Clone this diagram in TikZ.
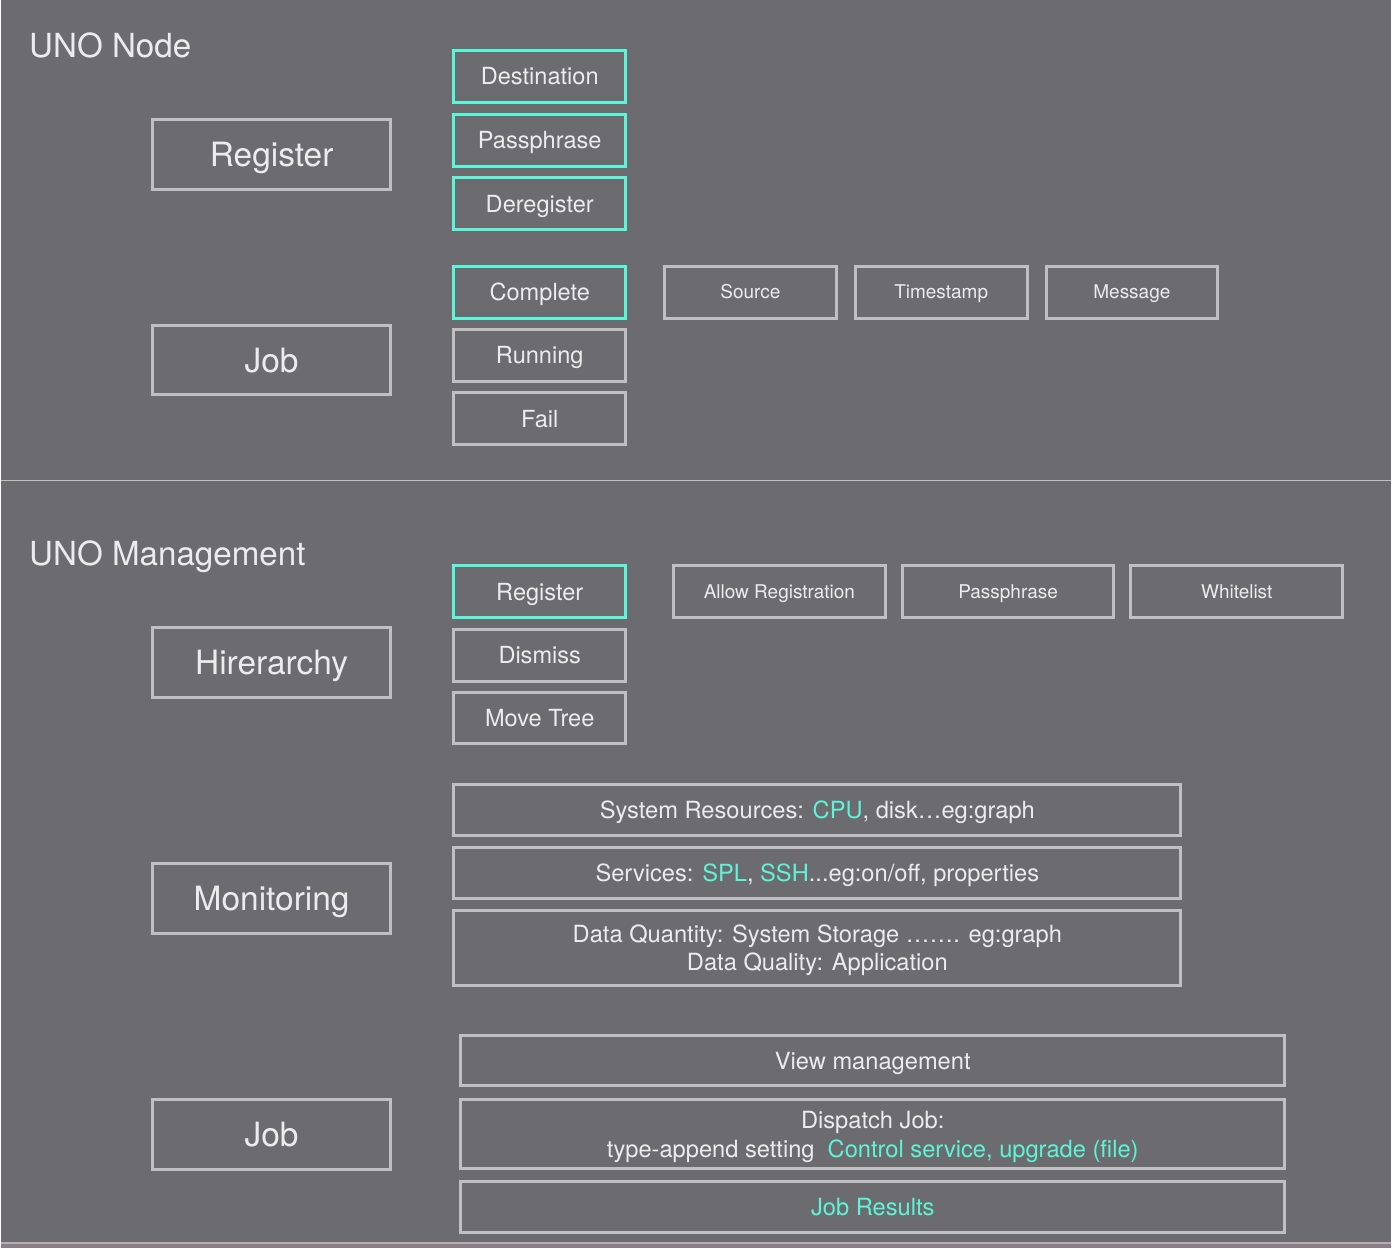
\documentclass[tikz,border=0pt]{standalone}
\usepackage{fontspec}
\setmainfont{TeX Gyre Heros}
\definecolor{bg}{HTML}{6C6C70}
\definecolor{lg}{HTML}{C0C0C3}
\definecolor{tx}{HTML}{ECECEC}
\definecolor{cy}{HTML}{5CF5D7}
\definecolor{strip}{HTML}{8C7C84}
\newcommand\hl[1]{\textcolor{cy}{#1}}
\begin{document}
\begin{tikzpicture}[x=1pt,y=-1pt,
  box/.style={draw=lg, line width=3pt, text=tx, inner sep=0pt, align=center, text depth=-4pt},
  cbox/.style={box, draw=cy},
  big/.style={box, minimum width=239pt, minimum height=70pt, text height=24.1pt, font=\fontsize{33.5}{40}\selectfont},
  col/.style={minimum width=172pt, minimum height=52pt, text height=17pt, font=\fontsize{23.6}{28}\selectfont},
  attr/.style={box, minimum height=52pt, text height=13.7pt, font=\fontsize{19}{23}\selectfont},
  wide/.style={box, font=\fontsize{23.7}{29}\selectfont},
  one/.style={text height=17.1pt},
  title/.style={text=tx, anchor=base west, inner sep=0pt, font=\fontsize{33.2}{40}\selectfont}]
\fill[bg] (0,0) rectangle (1392,1250);
\fill[strip] (0,1246) rectangle (1392,1250);
\draw[line width=2pt, color=lg!80!bg] (0,1244.5) -- (1392,1244.5);
\draw[line width=1.5pt, color=lg] (0,481) -- (1392,481);

% UNO Node
\node[title] (t1) at (28,58) {UNO Node};
\node[big] (reg) at (271,154.5) {Register};
\node[big] (job1) at (271,360.5) {Job};
\node[cbox,col] (dest) at (539.5,76.5) {Destination};
\node[cbox,col] (pass1) at (539.5,140.5) {Passphrase};
\node[cbox,col] (dereg) at (539.5,204) {Deregister};
\node[cbox,col] (compl) at (539.5,292.5) {Complete};
\node[box,col] (run) at (539.5,356) {Running};
\node[box,col] (fail) at (539.5,419.5) {Fail};
\node[attr, minimum width=172pt] (src) at (750.5,292.5) {Source};
\node[attr, minimum width=172pt] (ts) at (941.5,292.5) {Timestamp};
\node[attr, minimum width=172pt] (msg) at (1132.5,292.5) {Message};

% UNO Management
\node[title] (t2) at (28,566) {UNO Management};
\node[big] (hier) at (271,663.5) {Hirerarchy};
\node[big] (mon) at (271,899.5) {Monitoring};
\node[big] (job2) at (271,1136.5) {Job};
\node[cbox,col] (reg2) at (539.5,592.5) {Register};
\node[box,col] (dis) at (539.5,656) {Dismiss};
\node[box,col] (move) at (539.5,719) {Move Tree};
\node[attr, minimum width=212pt] (allow) at (779.5,592.5) {Allow Registration};
\node[attr, minimum width=212pt] (pass2) at (1008.5,592.5) {Passphrase};
\node[attr, minimum width=212pt] (white) at (1237.5,592.5) {Whitelist};

\node[wide, one, minimum width=728pt, minimum height=51pt] (sys) at (817.5,811) {System Resources: \hl{CPU}, disk…eg:graph};
\node[wide, one, minimum width=728pt, minimum height=51pt] (svc) at (817.5,874) {Services: \hl{SPL}, \hl{SSH}...eg:on/off, properties};
\node[wide, text depth=-5pt, minimum width=728pt, minimum height=75pt] (data) at (817.5,949) {Data Quantity: System Storage ……. eg:graph\\Data Quality: Application};

\node[wide, one, minimum width=825pt, minimum height=51pt] (view) at (873,1062) {View management};
\node[wide, text depth=-5pt, minimum width=825pt, minimum height=69pt] (disp) at (873,1136) {Dispatch Job:\\type-append setting\ \ \hl{Control service, upgrade (file)}};
\node[wide, one, minimum width=825pt, minimum height=51pt] (res) at (873,1209) {\hl{Job Results}};
\end{tikzpicture}
\end{document}
